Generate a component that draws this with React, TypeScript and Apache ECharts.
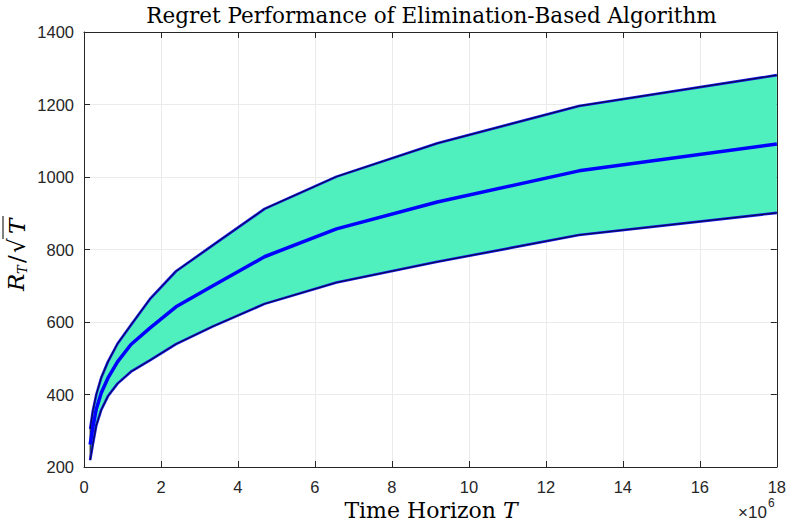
import React, { useEffect, useRef } from "react";
import * as echarts from "echarts";

// Time horizon T (in units of 10^6)
const T_MILLIONS = [0.16, 0.23, 0.32, 0.45, 0.62, 0.87, 1.22, 1.71, 2.39, 3.35, 4.69, 6.56, 9.18, 12.86, 18];
const UPPER = [305, 355, 400, 447, 490, 540, 592, 663, 740, 812, 912, 1001, 1093, 1196, 1281];
const MEAN = [262, 310, 360, 405, 445, 490, 538, 583, 642, 700, 780, 857, 931, 1017, 1091];
const LOWER = [219, 263, 315, 358, 395, 430, 463, 494, 539, 588, 650, 709, 766, 840, 901];

const X_MIN = 0, X_MAX = 18, X_STEP = 2;
const Y_MIN = 200, Y_MAX = 1400, Y_STEP = 200;

const TITLE = "Regret Performance of Elimination-Based Algorithm";
const X_LABEL = "Time Horizon ";

const AXIS_COLOR = "#262626";
const GRID_COLOR = "#ebebeb";
const FILL_COLOR = "#4ff0be";
const SANS = "'Liberation Sans', Arial, Helvetica, sans-serif";
const SERIF = "'DejaVu Serif', 'Liberation Serif', serif";

export default function App() {
  const ref = useRef<HTMLDivElement>(null);
  useEffect(() => {
    if (!ref.current) return;
    const chart = echarts.init(ref.current, undefined, { renderer: "svg" });
    const pairs = (ys: number[]) => T_MILLIONS.map((t, i) => [t, ys[i]]);
    const grid = { left: 84, right: 10, top: 32, bottom: 57 };
    const baseX = {
      type: "value", min: X_MIN, max: X_MAX, interval: X_STEP,
      axisLine: { show: true, onZero: false, lineStyle: { color: AXIS_COLOR, width: 1 } },
      axisTick: { show: true, inside: true, length: 6, lineStyle: { color: AXIS_COLOR } },
    };
    const baseY = {
      type: "value", min: Y_MIN, max: Y_MAX, interval: Y_STEP,
      axisLine: { show: true, onZero: false, lineStyle: { color: AXIS_COLOR, width: 1 } },
      axisTick: { show: true, inside: true, length: 6, lineStyle: { color: AXIS_COLOR } },
    };
    const boundLine = (ys: number[], color: string, width: number, z: number) => ({
      type: "line", data: pairs(ys), symbol: "none", silent: true, z,
      lineStyle: { color, width }, clip: false,
    });
    chart.setOption({
      animation: false,
      grid,
      xAxis: [
        {
          ...baseX, position: "bottom",
          axisLabel: { show: true, color: AXIS_COLOR, fontFamily: SANS, fontSize: 16.5, margin: 11, formatter: (v: number) => String(v) },
          splitLine: { show: true, lineStyle: { color: GRID_COLOR, width: 1 } },
        },
        { ...baseX, position: "top", axisLabel: { show: false }, splitLine: { show: false } },
      ],
      yAxis: [
        {
          ...baseY, position: "left",
          axisLabel: { show: true, color: AXIS_COLOR, fontFamily: SANS, fontSize: 16.5, margin: 10, formatter: (v: number) => String(v) },
          splitLine: { show: true, lineStyle: { color: GRID_COLOR, width: 1 } },
        },
        { ...baseY, position: "right", axisLabel: { show: false }, splitLine: { show: false } },
      ],
      series: [
        {
          type: "custom",
          silent: true,
          z: 1,
          data: [[X_MIN, Y_MIN]],
          renderItem: (_params: any, api: any) => {
            const up = T_MILLIONS.map((t, i) => api.coord([t, UPPER[i]]));
            const lo = T_MILLIONS.map((t, i) => api.coord([t, LOWER[i]])).reverse();
            return { type: "polygon", shape: { points: [...up, ...lo] }, style: { fill: FILL_COLOR } };
          },
        },
        {
          type: "line", data: [[T_MILLIONS[0], UPPER[0]], [T_MILLIONS[0], LOWER[0]]], symbol: "none",
          silent: true, z: 2, lineStyle: { color: "#000000", width: 1 },
        },
        boundLine(UPPER, "#1414e6", 2.6, 3),
        boundLine(LOWER, "#1414e6", 2.6, 3),
        boundLine(UPPER, "#0a0a3c", 1, 4),
        boundLine(LOWER, "#0a0a3c", 1, 4),
        boundLine(MEAN, "#0000ff", 3.5, 5),
      ],
      graphic: [
        {
          type: "text", x: 431.5, y: 15,
          style: { text: TITLE, font: `21.5px ${SERIF}`, fill: "#000", align: "center", verticalAlign: "middle" },
        },
        {
          type: "text", x: 431, y: 510,
          style: {
            text: `{n|${X_LABEL}}{i|T}`, align: "center", verticalAlign: "middle", fill: "#000",
            rich: {
              n: { fontFamily: SERIF, fontSize: 22, fill: "#000" },
              i: { fontFamily: SERIF, fontSize: 22, fontStyle: "italic", fill: "#000" },
            },
          },
        },
        {
          type: "group", x: 738, y: 512,
          children: [
            { type: "text", x: 0, y: 0, style: { text: "×10", font: `17px ${SANS}`, fill: AXIS_COLOR, align: "left", verticalAlign: "middle" } },
            { type: "text", x: 30, y: -9, style: { text: "6", font: `12px ${SANS}`, fill: AXIS_COLOR, align: "left", verticalAlign: "middle" } },
          ],
        },
        {
          type: "group", x: 16, y: 247, rotation: Math.PI / 2,
          children: [
            { type: "text", x: -44, y: 0, style: { text: "R", font: `italic 23px ${SERIF}`, fill: "#000", align: "left", verticalAlign: "middle" } },
            { type: "text", x: -27, y: 6, style: { text: "T", font: `italic 13px ${SERIF}`, fill: "#000", align: "left", verticalAlign: "middle" } },
            { type: "text", x: -16, y: 0, style: { text: "/", font: `23px ${SERIF}`, fill: "#000", align: "left", verticalAlign: "middle" } },
            { type: "text", x: -6, y: 1, style: { text: "√", font: `23px ${SERIF}`, fill: "#000", align: "left", verticalAlign: "middle" } },
            { type: "line", shape: { x1: 8, y1: -13, x2: 31, y2: -13 }, style: { stroke: "#000", lineWidth: 1 } },
            { type: "text", x: 13, y: 1, style: { text: "T", font: `italic 23px ${SERIF}`, fill: "#000", align: "left", verticalAlign: "middle" } },
          ],
        },
      ],
    });
    return () => chart.dispose();
  }, []);
  return (
    <div
      ref={ref}
      style={{ position: "absolute", left: 0, top: 0, width: 789, height: 524, background: "#fff" }}
    />
  );
}
